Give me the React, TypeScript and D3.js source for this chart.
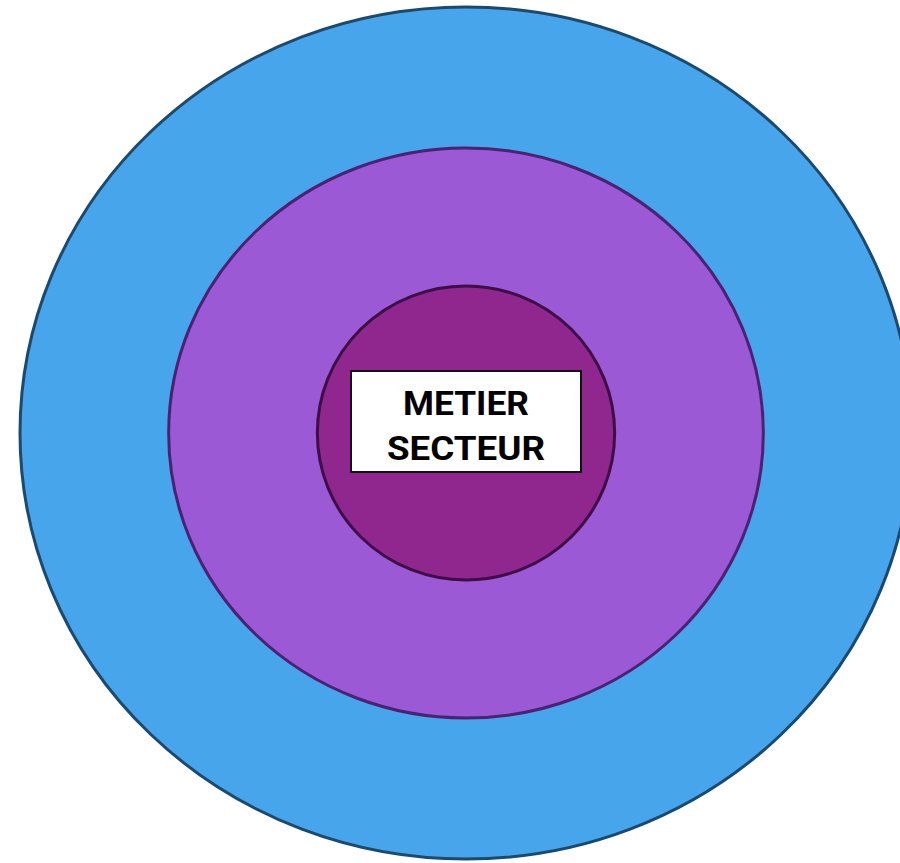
import React, { useEffect, useRef } from 'react';
import * as d3 from 'd3';

// concentric levels, outermost first
const levels = ['environnement', 'organisation', 'metier'];
const levelSizes = [3, 2, 1];
const levelFills = ['#46a5eb', '#9b59d6', '#8f278f'];
const levelStrokes = ['#1b4a6e', '#4b2272', '#3d0f45'];
const centerLines = ['METIER', 'SECTEUR'];

const App: React.FC = () => {
  const svgRef = useRef<SVGSVGElement>(null);

  useEffect(() => {
    if (!svgRef.current) return;

    const width = 900;
    const height = 863;
    const cx = 466;
    const cy = 433;

    const svg = d3.select(svgRef.current);
    svg.selectAll('*').remove();
    svg.attr('width', width).attr('height', height);

    const rx = d3.scaleLinear().domain([0, 3]).range([0, 446]);
    const ry = d3.scaleLinear().domain([0, 3]).range([0, 426]);

    const rings = levels.map((name, i) => ({
      name,
      size: levelSizes[i],
      fill: levelFills[i],
      stroke: levelStrokes[i],
    }));

    svg.selectAll('ellipse')
      .data(rings)
      .enter()
      .append('ellipse')
      .attr('cx', cx)
      .attr('cy', cy)
      .attr('rx', d => rx(d.size))
      .attr('ry', d => ry(d.size) + (d.size === 1 ? 5 : d.size === 2 ? 1 : 0))
      .attr('fill', d => d.fill)
      .attr('stroke', d => d.stroke)
      .attr('stroke-width', 3);

    const boxW = 230;
    const boxH = 101;
    svg.append('rect')
      .attr('x', cx - boxW / 2)
      .attr('y', 371)
      .attr('width', boxW)
      .attr('height', boxH)
      .attr('fill', '#ffffff')
      .attr('stroke', '#111111')
      .attr('stroke-width', 2);

    svg.selectAll('text.label')
      .data(centerLines)
      .enter()
      .append('text')
      .attr('class', 'label')
      .attr('x', cx)
      .attr('y', (_d, i) => 415 + i * 45)
      .attr('text-anchor', 'middle')
      .attr('font-family', 'Roboto, sans-serif')
      .attr('font-weight', 700)
      .attr('font-size', 34)
      .attr('textLength', (_d, i) => (i === 0 ? 126 : 158))
      .attr('lengthAdjust', 'spacingAndGlyphs')
      .attr('fill', '#000000')
      .text(d => d);
  }, []);

  return (
    <svg ref={svgRef} style={{ position: 'absolute', left: 0, top: 0, display: 'block' }}></svg>
  );
};

export default App;
